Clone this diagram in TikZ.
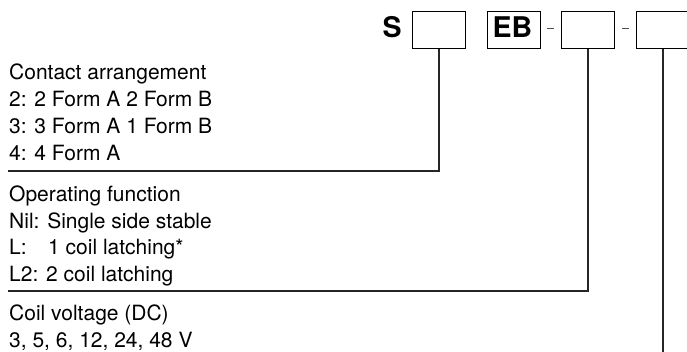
\documentclass[tikz,border=0pt]{standalone}
\usepackage{fontspec}
\setmainfont{TeX Gyre Heros}
\begin{document}
\begin{tikzpicture}[x=1pt,y=-1pt,
  txt/.style={anchor=base west,inner sep=0pt,font=\fontsize{21}{25}\selectfont},
  big/.style={anchor=base west,inner sep=0pt,font=\fontsize{28.5}{32}\selectfont\bfseries},
  codebox/.style={draw=black,line width=1pt,minimum width=53pt,minimum height=37pt,inner sep=0pt,anchor=north west},
  lead/.style={draw=black!85,line width=1.2pt},
  dashline/.style={draw=black!70,line width=1pt}]
\useasboundingbox (0,0) rectangle (687,352);
\begin{scope}
\clip (0,0) rectangle (687,352);
% header
\node[big] (S) at (382.5,37.5) {S};
\node[codebox] (b1) at (412,11) {};
\node[codebox] (b2) at (487,11) {};
\node[big] (EB) at (492.5,37.5) {EB};
\node[codebox] (b3) at (561,11) {};
\node[codebox] (b4) at (636,11) {};
\coordinate (d1a) at (547,29); \coordinate (d1b) at (554,29);
\coordinate (d2a) at (622,29); \coordinate (d2b) at (629,29);
\draw[dashline] (d1a) -- (d1b);
\draw[dashline] (d2a) -- (d2b);
% text blocks
\node[txt] (c0) at (9,80) {Contact arrangement};
\node[txt] (c1) at (9,107) {2: 2 Form A 2 Form B};
\node[txt] (c2) at (9,134) {3: 3 Form A 1 Form B};
\node[txt] (c3) at (9,161) {4: 4 Form A};
\node[txt] (o0) at (9,202) {Operating function};
\node[txt] (o1) at (9,229) {Nil: Single side stable};
\node[txt] (o2) at (9,255) {\makebox[39pt][l]{L:}1 coil latching*};
\node[txt] (o3) at (9,282) {L2: 2 coil latching};
\node[txt] (v0) at (9,320) {Coil voltage (DC)};
\node[txt] (v1) at (9,347) {3, 5, 6, 12, 24, 48 V};
% leaders
\coordinate (e1) at (8,171);
\coordinate (e2) at (8,291);
\coordinate (e3) at (b4.south |- 0,356);
\draw[lead] (b1.south) |- (e1);
\draw[lead] (b3.south) |- (e2);
\draw[lead] (b4.south) -- (e3);
\end{scope}
\end{tikzpicture}
\end{document}
